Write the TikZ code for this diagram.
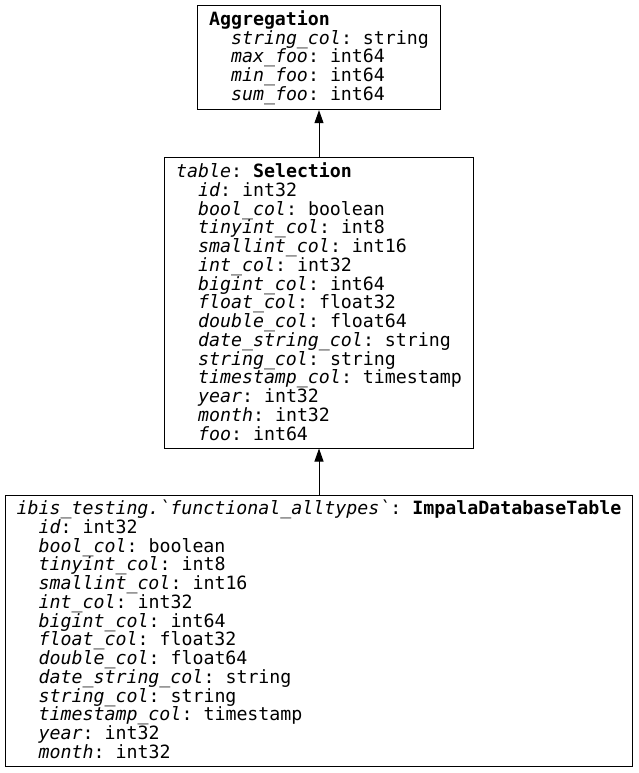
\documentclass[tikz,border=0pt]{standalone}
\usepackage{fontspec}
\setmonofont{DejaVu Sans Mono}
\usetikzlibrary{arrows.meta,positioning}

\newcommand{\fld}[2]{\hphantom{xx}\textit{#1}: #2\rule[-3pt]{0pt}{1pt}}

\begin{document}
\begin{tikzpicture}[x=1pt,y=-1pt,->,>={Triangle[length=13pt,width=9pt]},line width=1pt,
                    table node/.style={rectangle,draw,align=left,inner xsep=11.5pt,inner ysep=5pt,
                    font=\ttfamily\fontsize{18.27pt}{18.75pt}\selectfont}]
  \useasboundingbox (0,0) rectangle (639,773);

  \node[table node,anchor=north] (agg) at (319,5)
    {\textbf{Aggregation}\\
     \fld{string\_col}{string}\\
     \fld{max\_foo}{int64}\\
     \fld{min\_foo}{int64}\\
     \fld{sum\_foo}{int64}};
  \node[table node] (sel) [below=47pt of agg]
    {\textit{table}: \textbf{Selection}\\
     \fld{id}{int32}\\
     \fld{bool\_col}{boolean}\\
     \fld{tinyint\_col}{int8}\\
     \fld{smallint\_col}{int16}\\
     \fld{int\_col}{int32}\\
     \fld{bigint\_col}{int64}\\
     \fld{float\_col}{float32}\\
     \fld{double\_col}{float64}\\
     \fld{date\_string\_col}{string}\\
     \fld{string\_col}{string}\\
     \fld{timestamp\_col}{timestamp}\\
     \fld{year}{int32}\\
     \fld{month}{int32}\\
     \fld{foo}{int64}};
  \node[table node] (src) [below=46pt of sel]
    {\textit{ibis\_testing.\textasciigrave functional\_alltypes\textasciigrave}: \textbf{ImpalaDatabaseTable}\\
     \fld{id}{int32}\\
     \fld{bool\_col}{boolean}\\
     \fld{tinyint\_col}{int8}\\
     \fld{smallint\_col}{int16}\\
     \fld{int\_col}{int32}\\
     \fld{bigint\_col}{int64}\\
     \fld{float\_col}{float32}\\
     \fld{double\_col}{float64}\\
     \fld{date\_string\_col}{string}\\
     \fld{string\_col}{string}\\
     \fld{timestamp\_col}{timestamp}\\
     \fld{year}{int32}\\
     \fld{month}{int32}};

  \path (sel) edge (agg)
        (src) edge (sel);

\end{tikzpicture}
\end{document}
